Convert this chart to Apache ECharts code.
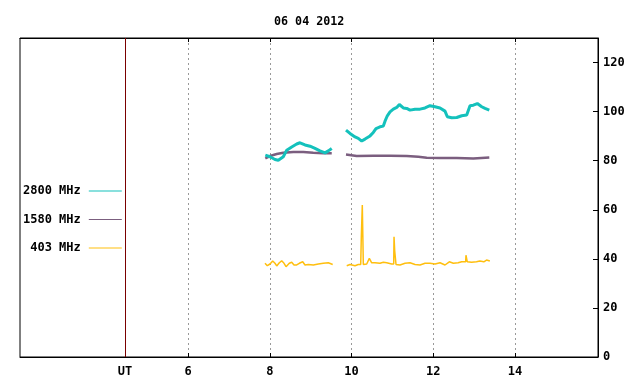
<!DOCTYPE html>
<html>
<head>
<meta charset="utf-8">
<script src="https://cdn.jsdelivr.net/npm/echarts@6/dist/echarts.min.js"></script>
<style>html,body{margin:0;padding:0;background:#fff}#c{width:640px;height:384px}</style>
</head>
<body>
<div id="c"></div>
<script>
// ---- data (hours UT, values) ----
const titleText = '06 04 2012';
const seriesNames = ['2800 MHz', '1580 MHz', '403 MHz'];
const xTicks = [6, 8, 10, 12, 14];
const utHour = 4.46;
const yTicks = [0, 20, 40, 60, 80, 100, 120];

const t2800 = [7.891, 8.006, 8.128, 8.209, 8.331, 8.415, 8.537, 8.659, 8.740, 8.862, 8.985, 9.107, 9.229, 9.352, 9.432, 9.516, null,
  9.865, 9.963, 10.086, 10.166, 10.250, 10.330, 10.453, 10.533, 10.599, 10.697, 10.778, 10.820, 10.876, 10.942, 11.023, 11.106, 11.170,
  11.267, 11.351, 11.431, 11.554, 11.676, 11.798, 11.920, 12.043, 12.165, 12.287, 12.344, 12.451, 12.574, 12.696, 12.818, 12.899,
  12.980, 13.078, 13.185, 13.266, 13.371];
const v2800 = [82.3, 81.6, 80.5, 80.2, 81.6, 84.3, 85.6, 86.8, 87.3, 86.4, 85.9, 85.0, 84.0, 83.2, 84.0, 85.0, null,
  92.5, 91.1, 89.7, 89.1, 88.0, 88.8, 90.1, 91.5, 93.1, 93.8, 94.1, 96.1, 98.3, 99.9, 101.0, 101.7, 102.9,
  101.5, 101.3, 100.6, 101.0, 101.0, 101.5, 102.4, 102.0, 101.5, 100.2, 97.9, 97.5, 97.6, 98.3, 98.6, 102.4,
  102.6, 103.3, 102.0, 101.3, 100.6];

const t1580 = [7.891, 8.006, 8.170, 8.331, 8.576, 8.821, 9.065, 9.310, 9.516, null,
  9.865, 10.127, 10.533, 10.942, 11.351, 11.634, 11.840, 12.165, 12.574, 12.980, 13.371];
const v1580 = [80.9, 81.9, 82.7, 83.2, 83.5, 83.5, 83.2, 83.0, 83.0, null,
  82.5, 81.9, 82.0, 82.0, 81.9, 81.6, 81.2, 81.1, 81.1, 80.9, 81.3];

const t403 = [7.884, 7.940, 8.006, 8.072, 8.128, 8.170, 8.234, 8.292, 8.349, 8.398, 8.478, 8.537, 8.593, 8.659, 8.723, 8.806,
  8.862, 8.943, 9.065, 9.188, 9.310, 9.432, 9.540, null,
  9.883, 9.963, 10.086, 10.166, 10.225, 10.240, 10.264, 10.289, 10.372, 10.436, 10.494, 10.575, 10.697, 10.778, 10.861,
  10.983, 11.032, 11.040, 11.057, 11.089, 11.187, 11.309, 11.431, 11.554, 11.676, 11.798, 11.920, 12.043, 12.165, 12.287,
  12.393, 12.491, 12.608, 12.696, 12.793, 12.800, 12.832, 12.936, 13.058, 13.139, 13.237, 13.303, 13.384];
const v403 = [38.2, 37.2, 37.9, 39.1, 38.2, 37.1, 38.4, 39.2, 38.2, 36.8, 38.2, 38.6, 37.5, 37.5, 38.2, 38.8,
  37.5, 37.7, 37.5, 37.9, 38.2, 38.4, 37.7, null,
  37.2, 37.7, 37.2, 37.7, 37.7, 49.0, 61.9, 37.7, 37.9, 40.2, 38.4, 38.4, 38.2, 38.6, 38.4,
  37.9, 37.9, 49.0, 43.2, 37.7, 37.5, 38.2, 38.4, 37.7, 37.5, 38.2, 38.2, 37.9, 38.4, 37.5,
  38.8, 38.2, 38.4, 38.8, 38.8, 41.5, 38.8, 38.6, 38.8, 39.1, 38.8, 39.5, 39.1];

function pairs(t, v) { return t.map((x, i) => x === null ? [null, null] : [x, v[i]]); }

const FONT = 'DejaVu Sans Mono';
const chart = echarts.init(document.getElementById('c'), null, { renderer: 'canvas' });
chart.setOption({
  animation: false,
  backgroundColor: '#fff',
  title: {
    text: titleText, left: 269, top: 11,
    textStyle: { fontFamily: FONT, fontWeight: 'bold', fontSize: 11.7, color: '#000' }
  },
  legend: {
    orient: 'vertical', align: 'right', left: 18, top: 179,
    data: seriesNames, icon: 'rect', itemWidth: 33, itemHeight: 1, itemGap: 14.5,
    textStyle: { fontFamily: FONT, fontWeight: 'bold', fontSize: 12, color: '#000', lineHeight: 14, padding: [0, 3, 0, 0] },
    selectedMode: false
  },
  grid: { left: 20, right: 42, top: 38, bottom: 27, show: true, borderColor: '#000', borderWidth: 1 },
  xAxis: [{
    type: 'value', min: 1.89, max: 16.03, position: 'bottom',
    axisLine: { lineStyle: { color: '#000' } },
    axisTick: { inside: true, length: 4, customValues: xTicks, lineStyle: { color: '#000' } },
    axisLabel: {
      customValues: [utHour].concat(xTicks), margin: 9,
      formatter: v => (Math.abs(v - utHour) < 1e-6 ? 'UT' : String(v)),
      fontFamily: FONT, fontWeight: 'bold', fontSize: 12, color: '#000'
    },
    splitLine: { show: true, lineStyle: { color: '#999', type: [2, 3], width: 1 } }
  }, {
    type: 'value', min: 1.89, max: 16.03, position: 'top',
    axisLine: { lineStyle: { color: '#000' } },
    axisTick: { inside: true, length: 4, customValues: xTicks, lineStyle: { color: '#000' } },
    axisLabel: { show: false },
    splitLine: { show: false }
  }],
  yAxis: {
    type: 'value', min: 0, max: 130, interval: 20, position: 'right',
    axisLine: { show: true, lineStyle: { color: '#000' } },
    axisTick: { show: true, inside: true, length: 5, customValues: yTicks, lineStyle: { color: '#000' } },
    axisLabel: { customValues: yTicks, margin: 5, fontFamily: FONT, fontWeight: 'bold', fontSize: 12, color: '#000' },
    splitLine: { show: false }
  },
  series: [
    {
      name: '1580 MHz', type: 'line', data: pairs(t1580, v1580), showSymbol: false, connectNulls: false,
      lineStyle: { color: '#7B5E7F', width: 2.5 }, itemStyle: { color: '#7B5E7F' }
    },
    {
      name: '2800 MHz', type: 'line', data: pairs(t2800, v2800), showSymbol: false, connectNulls: false,
      lineStyle: { color: '#14C1BC', width: 3 }, itemStyle: { color: '#14C1BC' }
    },
    {
      name: '403 MHz', type: 'line', data: pairs(t403, v403), showSymbol: false, connectNulls: false,
      lineStyle: { color: '#FFBF0F', width: 1.5 }, itemStyle: { color: '#FFBF0F' },
      markLine: {
        silent: true, symbol: 'none', label: { show: false },
        lineStyle: { color: '#7a0000', type: 'solid', width: 1 },
        data: [{ xAxis: utHour }]
      }
    }
  ]
});
</script>
</body>
</html>
